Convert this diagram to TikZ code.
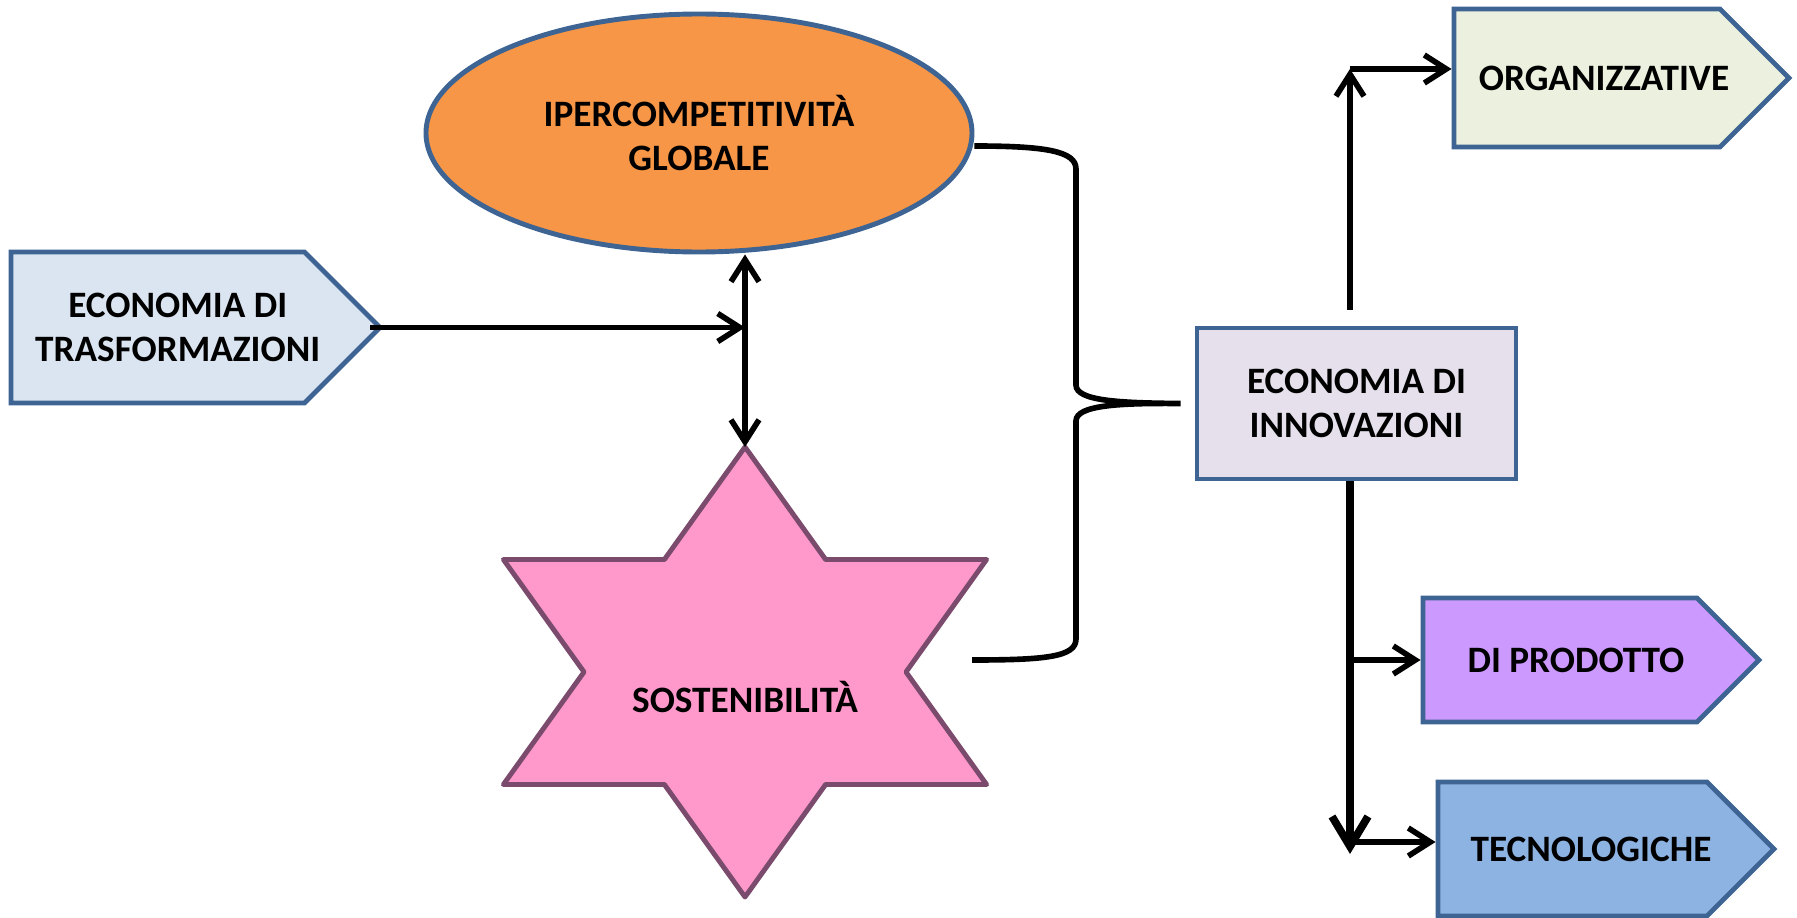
\documentclass[tikz,border=0pt]{standalone}
\usepackage{fontspec}
\setmainfont{Carlito}
\usetikzlibrary{arrows.meta}
\usetikzlibrary{shapes.geometric}
\usetikzlibrary{shapes.symbols}
\definecolor{bordo}{HTML}{3E6494}
\definecolor{bordostella}{HTML}{7A4B6C}
\definecolor{azzurro}{HTML}{DBE5F1}
\definecolor{arancio}{HTML}{F79646}
\definecolor{rosa}{HTML}{FF99CC}
\definecolor{lilla}{HTML}{E5E0EC}
\definecolor{verdino}{HTML}{EBF1DE}
\definecolor{viola}{HTML}{CC99FF}
\definecolor{celeste}{HTML}{8DB3E2}
\tikzset{%
	>={Straight Barb[length=2.2mm,width=2.8mm]},
	% Specifications for style of nodes:
	base/.style = {draw=bordo, line width=1.4pt, align=center,
		text centered, font=\fontsize{10.6}{12.6}\selectfont\bfseries},
	testo/.style = {align=center, font=\fontsize{10.6}{12.6}\selectfont\bfseries},
	freccia/.style = {base, signal, signal to=east, signal pointer angle=90,
		inner sep=0pt},
	globale/.style = {base, ellipse, fill=arancio, inner sep=0pt},
	scatola/.style = {base, rectangle, fill=lilla, inner sep=0pt},
	stella/.style = {draw=bordostella, line width=1.4pt, line join=round, fill=rosa},
	linea/.style = {line width=1.6pt},
}

\begin{document}
\begin{tikzpicture}
		\useasboundingbox (0,0) rectangle (17.97,9.17);
		% Specification of nodes (position, etc.)
		\node (trasf)    [freccia, fill=azzurro, minimum width=3.69cm, minimum height=1.51cm] at (1.5775,5.895) {};
		\node (trasftxt) [testo] at ([xshift=0.20cm]trasf.center) {ECONOMIA DI\\TRASFORMAZIONI};
		\node (ipercomp) [globale, minimum width=5.46cm, minimum height=2.38cm] at (6.99,7.84) {IPERCOMPETITIVITÀ\\GLOBALE};
		\coordinate (sostc) at (7.45,2.45);
		\draw[stella, shift={(sostc)}] (0,2.25) -- (0.806,1.125) -- (2.416,1.125) -- (1.61,0) -- (2.416,-1.125) -- (0.806,-1.125) -- (0,-2.25) -- (-0.806,-1.125) -- (-2.416,-1.125) -- (-1.61,0) -- (-2.416,1.125) -- (-0.806,1.125) -- cycle;
		\node (sost)     [testo] at ([yshift=-0.25cm]sostc) {SOSTENIBILITÀ};
		\coordinate (sosttop) at (7.45,4.70);
		\node (innov)    [scatola, minimum width=3.19cm, minimum height=1.51cm] at (13.565,5.135) {ECONOMIA DI\\INNOVAZIONI};
		\node (org)      [freccia, fill=verdino, minimum width=3.35cm, minimum height=1.38cm] at (15.87,8.39) {};
		\node (orgtxt)   [testo] at ([xshift=0.17cm]org.center) {ORGANIZZATIVE};
		\node (prod)     [freccia, fill=viola, minimum width=3.36cm, minimum height=1.24cm] at (15.60,2.57) {};
		\node (prodtxt)  [testo] at ([xshift=0.16cm]prod.center) {DI PRODOTTO};
		\node (tecno)    [freccia, fill=celeste, minimum width=3.36cm, minimum height=1.34cm] at (15.725,0.68) {};
		\node (tecnotxt) [testo] at ([xshift=0.185cm]tecno.center) {TECNOLOGICHE};
		\coordinate (su) at (13.50,8.48);
		\coordinate (giu) at (13.50,0.63);
		\coordinate (fine) at (9.72,2.57);
		% connectors
		\draw[linea, ->]    ([xshift=-0.13cm]trasf.east) -- (sosttop |- trasf.east);
		\draw[linea, <->]   (sosttop |- ipercomp.south) -- (sosttop);
		\draw[linea, ->, shorten <=0.16cm] (su |- innov.north) -- (su);
		\draw[linea, ->]    (su) -- (su -| org.west);
		\draw[line width=2.2pt, -{Straight Barb[length=3mm,width=3.6mm]}] (giu |- innov.south) -- (giu);
		\draw[linea, ->]    (giu |- prod.west) -- (prod.west);
		\draw[linea, ->]    ([yshift=0.07cm]giu |- tecno.west) -- ([yshift=0.07cm]tecno.west);
		% brace
		\draw[linea] ([yshift=-0.13cm]ipercomp.east) .. controls (10.45,7.71) and (10.76,7.66) .. (10.76,7.48)
			-- (10.76,5.32) .. controls (10.76,5.16) and (11.20,5.14) .. ([xshift=-0.14cm]innov.west)
			.. controls (11.20,5.14) and (10.76,5.12) .. (10.76,4.96)
			-- (10.76,2.78) .. controls (10.76,2.60) and (10.45,2.57) .. (fine);
	\end{tikzpicture}
\end{document}
